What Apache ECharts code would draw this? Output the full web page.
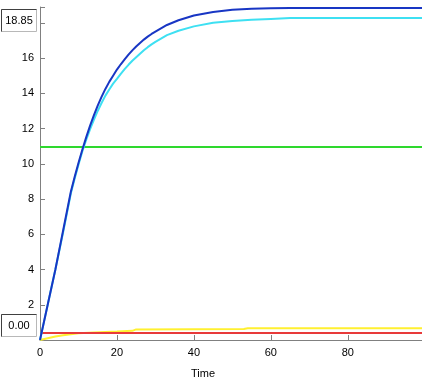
<!DOCTYPE html>
<html><head><meta charset="utf-8">
<script src="https://cdn.jsdelivr.net/npm/echarts@6/dist/echarts.min.js"></script>
<style>html,body{margin:0;padding:0;background:#fff}#c{width:422px;height:385px}</style>
</head><body><div id="c"></div>
<script>
// Time points
const times = [0,2,4,6,8,9,10,11,12,13,14,15,16,17,18,19,20,21,22,23,24,25,26,27,28,29,30,33,36,40,45,50,55,60,65,70,80,90,99.3];
// Series values
const blueVals = [0,2.0,4.0,6.2,8.4,9.25,10.05,10.8,11.5,12.15,12.75,13.3,13.8,14.25,14.65,15.0,15.35,15.65,15.93,16.2,16.44,16.66,16.86,17.05,17.22,17.37,17.5,17.88,18.15,18.42,18.62,18.74,18.8,18.83,18.85,18.85,18.85,18.85,18.85];
const cyanVals = [0,2.0,4.0,6.1,8.3,9.15,9.95,10.7,11.35,11.95,12.5,13.0,13.45,13.87,14.22,14.55,14.82,15.1,15.37,15.62,15.85,16.05,16.25,16.45,16.62,16.78,16.92,17.3,17.55,17.8,18.0,18.1,18.17,18.22,18.27,18.27,18.27,18.27,18.27];
const greenTimes = [0,99.3];
const greenVals = [10.96,10.96];
const redTimes = [0.5,99.3];
const redVals = [0.4,0.4];
const yellowTimes = [0,2,4,6,8,10,14,20,24,25,40,53,54,70,99.3];
const yellowVals = [0.0,0.1,0.2,0.27,0.33,0.38,0.43,0.48,0.52,0.6,0.61,0.62,0.67,0.67,0.67];
const yTickLabels = [2,4,6,8,10,12,14,16];
const xTickLabels = [0,20,40,60,80];
const maxLabel = '18.85', minLabel = '0.00', xName = 'Time';

const pair = (xs, ys) => xs.map((x,i)=>[x, ys[i]]);
const font = 'Liberation Sans, Arial, sans-serif';
const chart = echarts.init(document.getElementById('c'), null, {renderer:'canvas'});
const mk = (name, xs, ys, color, z) => ({
  name, type:'line', data: pair(xs, ys), showSymbol:false, symbol:'none',
  lineStyle:{color, width:2}, z, animation:false
});
chart.setOption({
  animation:false,
  grid:{left:40, top:7, right:0, bottom:45, containLabel:false},
  xAxis:{type:'value', min:0, max:99.3, interval:20,
    axisLine:{lineStyle:{color:'#808080', width:1}},
    axisTick:{inside:true, length:5, lineStyle:{color:'#808080'}},
    splitLine:{show:false},
    axisLabel:{color:'#000', fontSize:11, fontFamily:font, margin:7, showMaxLabel:false,
      formatter:v=> xTickLabels.includes(v) ? String(v) : ''}},
  yAxis:{type:'value', min:0, max:18.9, interval:2,
    axisLine:{show:true, lineStyle:{color:'#808080', width:1}},
    axisTick:{show:true, inside:true, length:5, lineStyle:{color:'#808080'}},
    splitLine:{show:false},
    axisLabel:{color:'#000', fontSize:11, fontFamily:font, margin:6,
      formatter:v=> yTickLabels.includes(v) ? String(v) : ''}},
  series:[
    mk('yellow', yellowTimes, yellowVals, '#fff030', 1),
    mk('red', redTimes, redVals, '#e83a3a', 2),
    mk('green', greenTimes, greenVals, '#2ed82e', 3),
    mk('cyan', times, cyanVals, '#3ee0f2', 4),
    mk('blue', times, blueVals, '#1836c4', 5)
  ],
  graphic:[
    {type:'rect', shape:{x:1.5,y:9.5,width:35,height:22}, style:{fill:'#fff', stroke:'#b8b8b8', lineWidth:1}, z:10},
    {type:'polyline', shape:{points:[[1.5,31.5],[1.5,9.5],[36.5,9.5]]}, style:{stroke:'#404040', lineWidth:1, fill:null}, z:11},
    {type:'text', style:{text:maxLabel, x:19, y:21, align:'center', verticalAlign:'middle', font:'11px '+font, fill:'#000'}, z:12},
    {type:'rect', shape:{x:1.5,y:314.5,width:35,height:22}, style:{fill:'#fff', stroke:'#b8b8b8', lineWidth:1}, z:10},
    {type:'polyline', shape:{points:[[1.5,336.5],[1.5,314.5],[36.5,314.5]]}, style:{stroke:'#404040', lineWidth:1, fill:null}, z:11},
    {type:'text', style:{text:minLabel, x:19, y:326, align:'center', verticalAlign:'middle', font:'11px '+font, fill:'#000'}, z:12},
    {type:'text', style:{text:xName, x:203, y:374, align:'center', verticalAlign:'middle', font:'11px '+font, fill:'#000'}, z:12}
  ]
});
</script></body></html>
